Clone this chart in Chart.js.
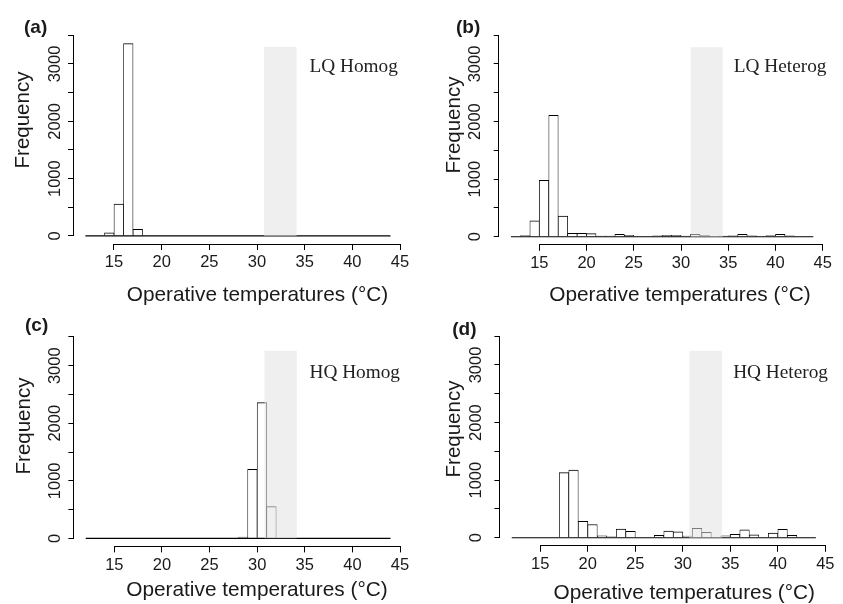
<!DOCTYPE html>
<html>
<head>
<meta charset="utf-8">
<script src="https://cdn.jsdelivr.net/npm/chart.js@4.4.1/dist/chart.umd.min.js"></script>
<style>
  html, body { margin: 0; padding: 0; background: #fff; }
  #fig { position: relative; width: 843px; height: 604px; overflow: hidden; }
  #fig canvas { position: absolute; left: 0; top: 0; }
  .txt { position: absolute; white-space: nowrap; line-height: 1; color: #1a1a1a; }
  .rot { position: absolute; width: 0; height: 0; transform: rotate(-90deg); transform-origin: 0 0; }
</style>
</head>
<body>
<div id="fig"></div>
<script>
// histogram bins (1 °C wide, 12..44)
const binCenters = [12.5, 13.5, 14.5, 15.5, 16.5, 17.5, 18.5, 19.5, 20.5, 21.5, 22.5, 23.5, 24.5, 25.5, 26.5, 27.5,
  28.5, 29.5, 30.5, 31.5, 32.5, 33.5, 34.5, 35.5, 36.5, 37.5, 38.5, 39.5, 40.5, 41.5, 42.5, 43.5];
const histRange = [12, 44];

// frequencies
const lqHomog = [0, 0, 55, 558, 3356, 117, 0, 0, 0, 0, 0, 0, 0, 0, 0, 0,
  0, 0, 0, 0, 0, 0, 0, 0, 0, 0, 0, 0, 0, 0, 0, 0];
const lqHeterog = [5, 20, 275, 980, 2110, 360, 58, 58, 55, 10, 10, 40, 25, 5, 5, 15,
  25, 25, 10, 40, 25, 5, 10, 15, 40, 15, 5, 20, 40, 15, 5, 5];
const hqHomog = [0, 0, 0, 0, 0, 0, 0, 0, 0, 0, 0, 0, 0, 0, 0, 0,
  20, 1200, 2360, 550, 0, 0, 0, 0, 0, 0, 0, 0, 0, 0, 0, 0];
const hqHeterog = [3, 3, 3, 3, 5, 1130, 1175, 285, 230, 35, 17, 150, 110, 5, 5, 40,
  116, 104, 29, 162, 93, 6, 35, 58, 139, 52, 5, 81, 145, 40, 5, 5];

// shaded preferred-temperature band per panel
const bandLow = [30.74, 31.0, 30.75, 30.68];
const bandHigh = [34.17, 34.43, 34.17, 34.13];
const bandTop = [3300, 3290, 3260, 3245];

// axes
const xLimits = [10.7, 46.3];
const yLimits = [-140, 3640];
const xTicks = [15, 20, 25, 30, 35, 40, 45];
const yTicks = [0, 500, 1000, 1500, 2000, 2500, 3000, 3500];
const yTickLabels = ['0', '', '1000', '', '2000', '', '3000', ''];

const panelTags = ['(a)', '(b)', '(c)', '(d)'];
const panelNames = ['LQ Homog', 'LQ Heterog', 'HQ Homog', 'HQ Heterog'];
const xTitle = 'Operative temperatures (°C)';
const yTitle = 'Frequency';

// layout (pixels) for each panel
const boxes = [
  { l: 73.0, r: 412.4, t: 27.3, b: 244.0, yPad: -5.85 },
  { l: 498.7, r: 835.0, t: 27.1, b: 244.8, yPad: -0.15 },
  { l: 73.35, r: 412.4, t: 328.9, b: 546.4, yPad: -5.5 },
  { l: 499.4, r: 837.7, t: 328.1, b: 545.8, yPad: 0.05 },
];
const textPos = [
  { tag: [24, 32.7], name: [309.5, 71.7], yt: [28.5, 120], xt: [257.5, 301.7] },
  { tag: [456, 32.7], name: [733.8, 71.7], yt: [460, 124.7], xt: [680, 301.7] },
  { tag: [25, 331], name: [309.5, 378.4], yt: [29.5, 426], xt: [257, 596.7] },
  { tag: [452.3, 335.5], name: [733.2, 378.4], yt: [460, 429], xt: [684.3, 600] },
];

const SANS = '"Liberation Sans", Arial, sans-serif';
const SERIF = '"Liberation Serif", "Times New Roman", serif';
const INK = '#1a1a1a';
const BAND = 'rgba(225, 225, 225, 0.55)';
const AXW = 40;
const fig = document.getElementById('fig');

const align = (p) => Math.round(p - 0.5) + 0.5;

// R-style axis lines that only span the first..last tick
const rAxes = {
  id: 'rAxes',
  afterDraw(chart) {
    const { ctx, chartArea, scales: { x, y } } = chart;
    ctx.save();
    ctx.strokeStyle = '#000';
    ctx.lineWidth = 1;
    ctx.beginPath();
    const yb = align(chartArea.bottom);
    ctx.moveTo(align(x.getPixelForValue(xTicks[0])) - 0.5, yb);
    ctx.lineTo(align(x.getPixelForValue(xTicks[xTicks.length - 1])) + 0.5, yb);
    const xl = align(chartArea.left);
    ctx.moveTo(xl, align(y.getPixelForValue(yTicks[0])) + 0.5);
    ctx.lineTo(xl, align(y.getPixelForValue(yTicks[yTicks.length - 1])) - 0.5);
    ctx.stroke();
    ctx.restore();
  },
};

function addText(text, x, baseline, font, size, opts = {}) {
  const off = (font === SERIF ? 0.8375 : 0.8465) * size;
  const span = document.createElement('div');
  span.className = 'txt';
  span.textContent = text;
  span.style.fontFamily = font;
  span.style.fontSize = size + 'px';
  if (opts.bold) span.style.fontWeight = 'bold';
  if (opts.color) span.style.color = opts.color;
  if (opts.rotate) {
    const wrap = document.createElement('div');
    wrap.className = 'rot';
    wrap.style.left = x + 'px';
    wrap.style.top = baseline + 'px';
    span.style.left = '0px';
    span.style.top = -off + 'px';
    span.style.transform = 'translateX(-50%)';
    wrap.append(span);
    fig.append(wrap);
    return;
  }
  span.style.left = x + 'px';
  span.style.top = (baseline - off) + 'px';
  if (opts.center) span.style.transform = 'translateX(-50%)';
  fig.append(span);
}

function makePanel(i, counts) {
  const box = boxes[i];
  const canvas = document.createElement('canvas');
  canvas.width = 843;
  canvas.height = 604;
  fig.append(canvas);
  return new Chart(canvas, {
    type: 'bar',
    data: {
      datasets: [
        {
          type: 'line',
          data: [{ x: bandLow[i], y: bandTop[i] }, { x: bandHigh[i], y: bandTop[i] }],
          fill: 'origin',
          backgroundColor: BAND,
          borderColor: 'rgba(0,0,0,0)',
          borderWidth: 0,
          pointRadius: 0,
          order: 0,
        },
        {
          type: 'line',
          data: [{ x: histRange[0], y: 0 }, { x: histRange[1], y: 0 }],
          borderColor: '#000',
          borderWidth: 1.2,
          pointRadius: 0,
          fill: false,
          order: 1,
        },
        {
          data: binCenters.map((x, k) => ({ x, y: counts[k] })),
          backgroundColor: '#fff',
          borderColor: '#000',
          borderWidth: { top: 1, left: 0.75, right: 0.75, bottom: 0 },
          borderSkipped: 'start',
          barPercentage: 1,
          categoryPercentage: 1,
          order: 2,
        },
      ],
    },
    options: {
      responsive: false,
      animation: false,
      events: [],
      layout: {
        padding: { left: box.l - AXW, top: box.t, right: 843 - box.r, bottom: 604 - box.b - AXW },
      },
      plugins: { legend: { display: false }, tooltip: { enabled: false } },
      scales: {
        x: {
          type: 'linear',
          min: xLimits[0],
          max: xLimits[1],
          offset: false,
          afterBuildTicks: (s) => { s.ticks = xTicks.map((v) => ({ value: v })); },
          afterFit: (s) => { s.height = AXW; },
          border: { display: false },
          grid: { offset: false, drawOnChartArea: false, drawTicks: true, tickLength: 6, color: '#000', lineWidth: 1 },
          ticks: { autoSkip: false, maxRotation: 0, padding: 3, color: INK, font: { family: SANS, size: 16.5 } },
        },
        y: {
          type: 'linear',
          min: yLimits[0],
          max: yLimits[1],
          afterBuildTicks: (s) => { s.ticks = yTicks.map((v) => ({ value: v })); },
          afterFit: (s) => { s.width = AXW; },
          border: { display: false },
          grid: { drawOnChartArea: false, drawTicks: true, tickLength: 5, color: '#000', lineWidth: 1 },
          ticks: {
            autoSkip: false,
            minRotation: 90,
            maxRotation: 90,
            crossAlign: 'center',
            padding: box.yPad,
            color: INK,
            font: { family: SANS, size: 16.5 },
            callback: (v, k) => yTickLabels[k],
          },
        },
      },
    },
    plugins: [rAxes],
  });
}

[lqHomog, lqHeterog, hqHomog, hqHeterog].forEach((counts, i) => makePanel(i, counts));

textPos.forEach((p, i) => {
  addText(panelTags[i], p.tag[0], p.tag[1], SANS, 19, { bold: true });
  addText(panelNames[i], p.name[0], p.name[1], SERIF, 19.3, { color: '#222' });
  addText(yTitle, p.yt[0], p.yt[1], SANS, 20.5, { rotate: true });
  addText(xTitle, p.xt[0], p.xt[1], SANS, 20.8, { center: true });
});
</script>
</body>
</html>
